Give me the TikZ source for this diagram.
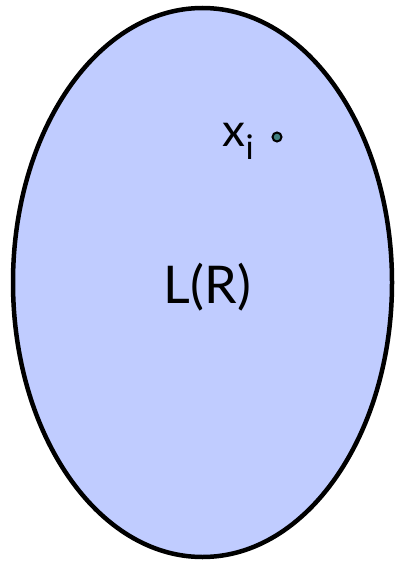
\documentclass[tikz,border=0pt]{standalone}
\usepackage{fontspec}
\setmainfont{Lato}
\usetikzlibrary{shapes.geometric, positioning}
\definecolor{regionblue}{RGB}{192,204,255}
\definecolor{pointteal}{RGB}{64,128,128}
\tikzset{
    regionshape/.style={ellipse, draw=black, line width=4.5pt, fill=regionblue, inner sep=0pt, minimum width=379pt, minimum height=549pt},
    pointdot/.style={circle, draw=black, line width=2pt, fill=pointteal, inner sep=0pt, minimum size=9pt},
    biglbl/.style={font=\fontsize{52}{54}\selectfont, inner sep=0pt},
    smalllbl/.style={font=\fontsize{46}{48}\selectfont, inner sep=0pt},
}
\newcommand{\lowsub}[1]{\raisebox{-13pt}{\fontsize{34}{34}\selectfont #1}}

\begin{document}
\begin{tikzpicture}[x=1pt, y=1pt]
\useasboundingbox (0,0) rectangle (394,-564);

\node[regionshape] (region) at (202.5,-282.5) {};
\node[biglbl] (lang-lbl) at (207.5,-287) {L(R)};

\node[pointdot] (xi-dot) at (277,-137) {};
\node[smalllbl, anchor=base east] (xi-lbl) at ([xshift=-23pt, yshift=-10pt]xi-dot.center) {x\lowsub{i}};

\end{tikzpicture}
\end{document}
